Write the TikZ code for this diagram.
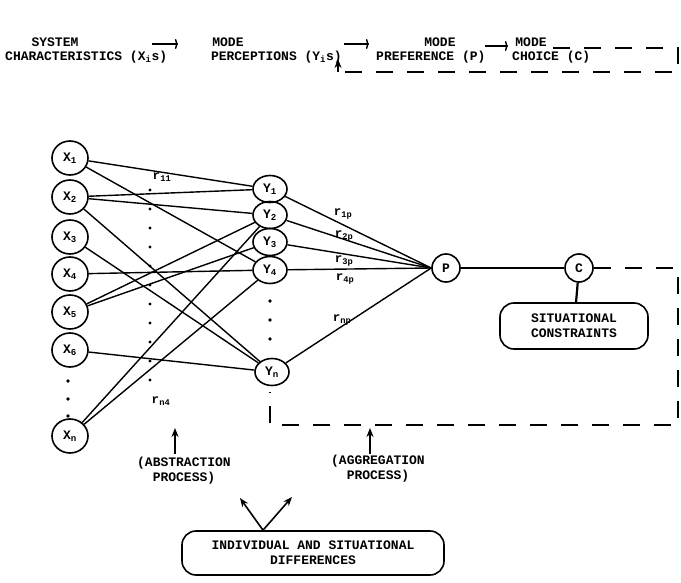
\documentclass[tikz,border=0pt]{standalone}
\usepackage{fontspec}
\setmonofont{Liberation Mono}
\usetikzlibrary{shapes.geometric,arrows.meta}
\begin{document}
\begin{tikzpicture}[x=1pt,y=-1pt,
  tw/.style={font=\ttfamily\bfseries\fontsize{13}{15}\selectfont},
  xnode/.style={draw,ellipse,line width=1.6pt,minimum width=36pt,minimum height=34pt,inner sep=0pt,tw},
  ynode/.style={draw,ellipse,line width=1.6pt,minimum width=34pt,minimum height=27pt,inner sep=0pt,tw},
  pnode/.style={draw,circle,line width=1.6pt,minimum size=28pt,inner sep=0pt,tw},
  con/.style={line width=1.4pt},
  dsh/.style={line width=1.6pt,dash pattern=on 17pt off 14pt},
  txt/.style={tw,inner sep=0pt},
  lbl/.style={inner sep=0pt,font=\ttfamily\bfseries\fontsize{12.5}{14}\selectfont},
  rbox/.style={draw,rounded corners=14pt,line width=1.6pt,tw,align=center,inner sep=0pt},
  arr/.style={con,-{To[length=3pt,width=10pt]}},
  uparr/.style={line width=1.6pt,-{Stealth[length=9pt,width=7pt]}}
]
\useasboundingbox (0,0) rectangle (681,583);

% header
\node[txt] (sys) at (55,42) {SYSTEM};
\node[txt,anchor=west] (char) at (5,57) {CHARACTERISTICS (X\textsubscript{i}s)};
\node[txt] (mode1) at (228,42) {MODE};
\node[txt,anchor=east] (perc) at (342,57) {PERCEPTIONS (Y\textsubscript{i}s)};
\node[txt] (mode2) at (440,42) {MODE};
\node[txt,anchor=west] (pref) at (376,57) {PREFERENCE (P)};
\node[txt] (mode3) at (531,42) {MODE};
\node[txt,anchor=west] (choice) at (512,57) {CHOICE (C)};

\coordinate (a1s) at (152,44); \coordinate (a1e) at (178,44);
\coordinate (a2s) at (344,44); \coordinate (a2e) at (369,44);
\coordinate (a3s) at (485,46); \coordinate (a3e) at (508,46);
\draw[arr] (a1s) -- (a1e);
\draw[arr] (a2s) -- (a2e);
\draw[arr] (a3s) -- (a3e);

\coordinate (h1) at (553,48); \coordinate (h2) at (678,48);
\coordinate (h3) at (678,72); \coordinate (h4) at (338,72);
\coordinate (h5) at (338,59);
\draw[dsh] (h1) -- (h2) -- (h3) -- (h4);
\draw[uparr] (h4) -- (h5);

% X nodes
\node[xnode] (x1) at (70,158) {X\textsubscript{1}};
\node[xnode] (x2) at (70,197) {X\textsubscript{2}};
\node[xnode] (x3) at (70,237) {X\textsubscript{3}};
\node[xnode] (x4) at (70,274) {X\textsubscript{4}};
\node[xnode] (x5) at (70,312) {X\textsubscript{5}};
\node[xnode] (x6) at (70,350) {X\textsubscript{6}};
\node[xnode] (xn) at (70,436) {X\textsubscript{n}};
\foreach \yy in {381,399,416} \fill (68,\yy) circle (1.8pt);

% Y nodes
\node[ynode] (y1) at (270,189) {Y\textsubscript{1}};
\node[ynode] (y2) at (270,215) {Y\textsubscript{2}};
\node[ynode] (y3) at (270,242) {Y\textsubscript{3}};
\node[ynode] (y4) at (270,270) {Y\textsubscript{4}};
\node[ynode] (yn) at (272,372) {Y\textsubscript{n}};
\foreach \yy in {301,320,339} \fill (270,\yy) circle (1.8pt);

% middle dotted column
\foreach \yy in {190,209,...,385} \fill (150,\yy) circle (1.6pt);

% X -> Y connectors
\draw[con] (x1) -- (y1);
\draw[con] (x1) -- (y4);
\draw[con] (x2) -- (y1);
\draw[con] (x2) -- (y2);
\draw[con] (x2) -- (yn);
\draw[con] (x3) -- (yn);
\draw[con] (x4) -- (y4);
\draw[con] (x5) -- (y2);
\draw[con] (x5) -- (y3);
\draw[con] (x6) -- (yn);
\draw[con] (xn) -- (y2);
\draw[con] (xn) -- (y4);

\node[lbl] (r11) at (162,177) {r\textsubscript{11}};
\node[lbl] (rn4) at (161,401) {r\textsubscript{n4}};

% P and C
\node[pnode] (p) at (446,268) {P};
\node[pnode] (c) at (579,268) {C};

\draw[con] (y1) -- (p.west);
\draw[con] (y2) -- (p.west);
\draw[con] (y3) -- (p.west);
\draw[con] (y4) -- (p.west);
\draw[con] (yn) -- (p.west);

\node[lbl] (r1p) at (343,214) {r\textsubscript{1p}};
\node[lbl] (r2p) at (344,236) {r\textsubscript{2p}};
\node[lbl] (r3p) at (344,261) {r\textsubscript{3p}};
\node[lbl] (r4p) at (345,279) {r\textsubscript{4p}};
\node[lbl] (rnp) at (342,320) {r\textsubscript{np}};

\draw[con] (p) -- (c);

\node[rbox,minimum width=148pt,minimum height=46pt] (sc) at (574,326) {SITUATIONAL\\CONSTRAINTS};
\draw[line width=2.2pt] (c) -- (sc);

\coordinate (d1) at (678,268); \coordinate (d2) at (678,425);
\coordinate (d3) at (270,425); \coordinate (d4) at (270,392);
\draw[dsh] (c.east) -- (d1) -- (d2) -- (d3) -- (d4);

% bottom
\coordinate (ua1) at (175,454); \coordinate (ua2) at (175,428);
\coordinate (ub1) at (370,454); \coordinate (ub2) at (370,428);
\draw[uparr] (ua1) -- (ua2);
\draw[uparr] (ub1) -- (ub2);
\node[txt,align=center] (abs) at (184,471) {(ABSTRACTION\\PROCESS)};
\node[txt,align=center] (agg) at (378,469) {(AGGREGATION\\PROCESS)};

\node[rbox,minimum width=262pt,minimum height=44pt] (ind) at (313,553) {INDIVIDUAL AND SITUATIONAL\\DIFFERENCES};
\coordinate (ia) at ([xshift=-50pt]ind.north);
\coordinate (ib) at (240,498); \coordinate (ic) at (292,497);
\draw[uparr] (ia) -- (ib);
\draw[uparr] (ia) -- (ic);
\end{tikzpicture}
\end{document}
